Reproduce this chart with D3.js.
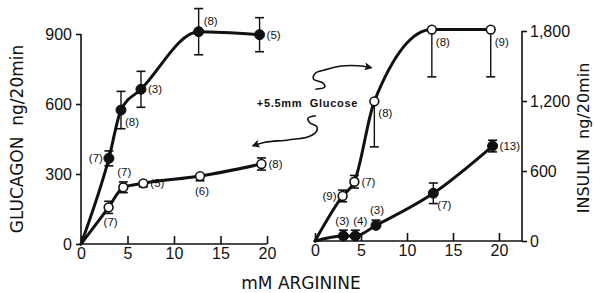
<!DOCTYPE html>
<html>
<head>
<meta charset="utf-8">
<script src="https://cdn.jsdelivr.net/npm/d3@7"></script>
<style>
  html, body { margin: 0; padding: 0; background: #fff; }
  svg { display: block; }
  text { fill: #111; }
</style>
</head>
<body>
<svg id="chart" width="594" height="293"></svg>
<script>
// ---------- DATA ----------
// X ticks (mM arginine)
const xTicks = [0, 5, 10, 15, 20];
const glucagonTicks = [0, 300, 600, 900];
const insulinTicks = [0, 600, 1200, 1800];

// Glucagon, arginine alone (filled)
const glucFilledX   = [3.0, 4.3, 6.45, 12.65, 19.2];
const glucFilledY   = [367, 574, 663, 910, 897];
const glucFilledUp  = [32, 80, 77, 99, 73];
const glucFilledDn  = [32, 80, 77, 99, 73];
const glucFilledN   = ["(7)", "(8)", "(3)", "(8)", "(5)"];
const glucFilledPos = ["l", "br", "r", "ar", "r"];

// Glucagon, arginine + 5.5 mM glucose (open)
const glucOpenX   = [2.97, 4.55, 6.7, 12.8, 19.4];
const glucOpenY   = [157, 243, 260, 291, 343];
const glucOpenUp  = [26, 23, 0, 0, 26];
const glucOpenDn  = [26, 23, 15, 20, 26];
const glucOpenN   = ["(7)", "(7)", "(5)", "(6)", "(8)"];
const glucOpenPos = ["b", "a", "r", "b", "r"];

// Insulin, arginine + 5.5 mM glucose (open)
const insOpenX   = [3.0, 4.28, 6.45, 12.7, 19.1];
const insOpenY   = [386, 508, 1197, 1812, 1812];
const insOpenUp  = [50, 54, 0, 0, 0];
const insOpenDn  = [50, 54, 390, 405, 405];
const insOpenN   = ["(9)", "(7)", "(8)", "(8)", "(9)"];
const insOpenPos = ["l", "r", "br", "br", "br"];

// Insulin, arginine alone (filled)
const insFilledX   = [3.08, 4.38, 6.63, 12.86, 19.3];
const insFilledY   = [43, 43, 134, 409, 814];
const insFilledUp  = [50, 50, 45, 88, 50];
const insFilledDn  = [0, 0, 0, 88, 50];
const insFilledN   = ["(3)", "(4)", "(3)", "(7)", "(13)"];
const insFilledPos = ["al", "aR", "a", "br", "r"];

// Annotation arrows (in glucagon-panel data units)
const arrowUpper = [[25.2,663],[26.2,672],[26.05,689],[25.0,707],[25.2,732],[26.2,746],[28.0,763],[29.8,764],[31.2,756]];
const arrowLower = [[25.25,550],[24.4,539],[24.6,520],[25.35,503],[25.3,481],[24.45,460],[22.3,446],[19.8,436],[18.5,421]];
const annotationText = "+5.5mm  Glucose";

// ---------- LAYOUT ----------
const svg = d3.select("#chart");
const FONT = "'Liberation Sans', Arial, sans-serif";
const TITLE_FONT = "'DejaVu Sans', sans-serif";

const xL = d3.scaleLinear().domain([0, 20]).range([81, 267]);
const yL = d3.scaleLinear().domain([0, 900]).range([244, 34]);
const xR = d3.scaleLinear().domain([0, 20]).range([315, 499]);
const yR = d3.scaleLinear().domain([0, 1800]).range([241, 31]);
const xRend = 22.5; // right axis position in x units

const axisStroke = 1.6;

function styleAxis(g) {
  g.select(".domain").remove();
  g.selectAll(".tick line").attr("stroke", "#111").attr("stroke-width", axisStroke);
  g.selectAll(".tick text").attr("font-family", FONT).attr("font-size", 16).attr("fill", "#111");
}

// Left panel axes
svg.append("line").attr("x1", xL(0)).attr("x2", xL(0)).attr("y1", yL(0)).attr("y2", yL(900))
  .attr("stroke", "#111").attr("stroke-width", axisStroke);
svg.append("line").attr("x1", xL(0)).attr("x2", xL(20)).attr("y1", yL(0)).attr("y2", yL(0))
  .attr("stroke", "#111").attr("stroke-width", axisStroke);

svg.append("g").attr("transform", `translate(0,${yL(0)})`)
  .call(d3.axisBottom(xL).tickValues(xTicks).tickSize(-8).tickPadding(4).tickFormat(d3.format("d")))
  .call(styleAxis)
  .call(g => g.selectAll(".tick text").attr("y", 4).attr("dy", "0.71em"));

svg.append("g").attr("transform", `translate(${xL(0)},0)`)
  .call(d3.axisLeft(yL).tickValues(glucagonTicks).tickSize(5).tickPadding(4).tickFormat(d3.format("d")))
  .call(styleAxis);

// Right panel axes
svg.append("line").attr("x1", xR(xRend)).attr("x2", xR(xRend)).attr("y1", yR(0)).attr("y2", yR(1800))
  .attr("stroke", "#111").attr("stroke-width", axisStroke);
svg.append("line").attr("x1", xR(0)).attr("x2", xR(xRend)).attr("y1", yR(0)).attr("y2", yR(0))
  .attr("stroke", "#111").attr("stroke-width", axisStroke);

svg.append("g").attr("transform", `translate(0,${yR(0)})`)
  .call(d3.axisBottom(xR).tickValues(xTicks).tickSize(-8).tickPadding(4).tickFormat(d3.format("d")))
  .call(styleAxis)
  .call(g => g.selectAll(".tick text").attr("y", 4).attr("dy", "0.71em"));

svg.append("g").attr("transform", `translate(${xR(xRend)},0)`)
  .call(d3.axisRight(yR).tickValues(insulinTicks).tickSize(5).tickPadding(3).tickFormat(d3.format(",")))
  .call(styleAxis);

// Axis titles
svg.append("text")
  .attr("transform", `translate(23,139) rotate(-90)`)
  .attr("text-anchor", "middle")
  .attr("font-family", TITLE_FONT).attr("font-size", 17)
  .style("white-space", "pre")
  .text("GLUCAGON  ng/20min");

svg.append("text")
  .attr("transform", `translate(589,138) rotate(-90)`)
  .attr("text-anchor", "middle")
  .attr("font-family", TITLE_FONT).attr("font-size", 16)
  .style("white-space", "pre")
  .text("INSULIN  ng/20min");

svg.append("text")
  .attr("x", 301).attr("y", 289)
  .attr("text-anchor", "middle")
  .attr("font-family", TITLE_FONT).attr("font-size", 17)
  .text("mM ARGININE");

// ---------- SERIES ----------
const placements = {
  l:  {anchor: "end",    dx: -6, dy: 0},
  r:  {anchor: "start",  dx: 7,  dy: 0},
  a:  {anchor: "middle", dx: 1,  dy: -15},
  al: {anchor: "middle", dx: -1, dy: -15},
  aR: {anchor: "middle", dx: 5,  dy: -15},
  b:  {anchor: "middle", dx: 2,  dy: 15},
  br: {anchor: "start",  dx: 4,  dy: 12},
  ar: {anchor: "start",  dx: 5,  dy: -11}
};

function drawSeries(xs, ys, up, dn, ns, pos, xScale, yScale, filled) {
  const pts = xs.map((x, i) => ({x, y: ys[i], up: up[i], dn: dn[i], n: ns[i], p: pos[i]}));
  const line = d3.line().x(d => xScale(d.x)).y(d => yScale(d.y)).curve(d3.curveMonotoneX);
  const g = svg.append("g");
  g.append("path")
    .datum([{x: 0, y: 0}].concat(pts))
    .attr("d", line)
    .attr("fill", "none").attr("stroke", "#111").attr("stroke-width", 3)
    .attr("stroke-linecap", "round");

  // error bars
  const eb = g.selectAll(".eb").data(pts).enter().append("g");
  eb.append("line")
    .attr("x1", d => xScale(d.x)).attr("x2", d => xScale(d.x))
    .attr("y1", d => yScale(d.y + d.up)).attr("y2", d => yScale(d.y - d.dn))
    .attr("stroke", "#111").attr("stroke-width", 1.4);
  eb.filter(d => d.up > 0).append("line")
    .attr("x1", d => xScale(d.x) - 4.5).attr("x2", d => xScale(d.x) + 4.5)
    .attr("y1", d => yScale(d.y + d.up)).attr("y2", d => yScale(d.y + d.up))
    .attr("stroke", "#111").attr("stroke-width", 1.6);
  eb.filter(d => d.dn > 0).append("line")
    .attr("x1", d => xScale(d.x) - 4.5).attr("x2", d => xScale(d.x) + 4.5)
    .attr("y1", d => yScale(d.y - d.dn)).attr("y2", d => yScale(d.y - d.dn))
    .attr("stroke", "#111").attr("stroke-width", 1.6);

  // markers
  g.selectAll(".pt").data(pts).enter().append("circle")
    .attr("cx", d => xScale(d.x)).attr("cy", d => yScale(d.y))
    .attr("r", filled ? 5 : 4.4)
    .attr("fill", filled ? "#111" : "#fff")
    .attr("stroke", "#111").attr("stroke-width", filled ? 1 : 1.6);

  // n labels
  g.selectAll(".lab").data(pts).enter().append("text")
    .attr("x", d => xScale(d.x) + placements[d.p].dx)
    .attr("y", d => yScale(d.y) + placements[d.p].dy)
    .attr("dy", "0.35em")
    .attr("text-anchor", d => placements[d.p].anchor)
    .attr("font-family", FONT).attr("font-size", 11.5)
    .text(d => d.n);
}

drawSeries(glucFilledX, glucFilledY, glucFilledUp, glucFilledDn, glucFilledN, glucFilledPos, xL, yL, true);
drawSeries(glucOpenX, glucOpenY, glucOpenUp, glucOpenDn, glucOpenN, glucOpenPos, xL, yL, false);
drawSeries(insOpenX, insOpenY, insOpenUp, insOpenDn, insOpenN, insOpenPos, xR, yR, false);
drawSeries(insFilledX, insFilledY, insFilledUp, insFilledDn, insFilledN, insFilledPos, xR, yR, true);

// ---------- ANNOTATION ----------
const defs = svg.append("defs");
defs.append("marker")
  .attr("id", "arrowhead")
  .attr("viewBox", "0 0 10 10")
  .attr("refX", 8).attr("refY", 5)
  .attr("markerWidth", 12).attr("markerHeight", 8)
  .attr("markerUnits", "userSpaceOnUse")
  .attr("orient", "auto")
  .append("path").attr("d", "M0,0 L10,5 L0,10 L2,5 Z").attr("fill", "#111");

const arrowLine = d3.line().x(d => xL(d[0])).y(d => yL(d[1])).curve(d3.curveCatmullRom);
[arrowUpper, arrowLower].forEach(a => {
  svg.append("path").attr("d", arrowLine(a))
    .attr("fill", "none").attr("stroke", "#111").attr("stroke-width", 1.6)
    .attr("marker-end", "url(#arrowhead)");
});

svg.append("text")
  .attr("x", xL(18.9)).attr("y", yL(604))
  .attr("dy", "0.35em")
  .attr("font-family", FONT).attr("font-size", 11).attr("font-weight", "bold")
  .attr("letter-spacing", 0.7)
  .style("white-space", "pre")
  .text(annotationText);
</script>
</body>
</html>
